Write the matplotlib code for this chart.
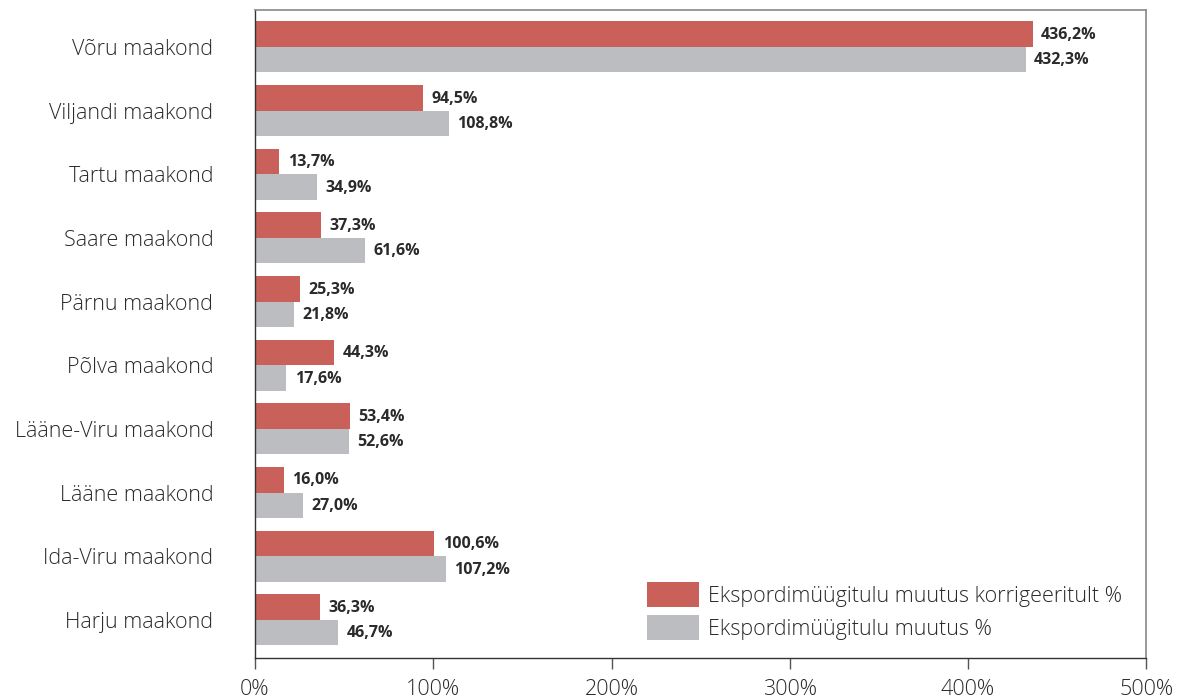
import matplotlib
matplotlib.use("Agg")
import matplotlib.pyplot as plt
import numpy as np
from matplotlib.patches import Patch

categories = ["Võru maakond", "Viljandi maakond", "Tartu maakond", "Saare maakond",
              "Pärnu maakond", "Põlva maakond", "Lääne-Viru maakond", "Lääne maakond",
              "Ida-Viru maakond", "Harju maakond"]
corrected = [436.2, 94.5, 13.7, 37.3, 25.3, 44.3, 53.4, 16.0, 100.6, 36.3]
change = [432.3, 108.8, 34.9, 61.6, 21.8, 17.6, 52.6, 27.0, 107.2, 46.7]
series_names = ["Ekspordimüügitulu muutus korrigeeritult %", "Ekspordimüügitulu muutus %"]
xticks = [0, 100, 200, 300, 400, 500]

plt.rcParams['font.family'] = ['Open Sans', 'DejaVu Sans']

RED = "#C9605A"
GRAY = "#BCBDC1"
TXT = "#2a2a2a"

fig = plt.figure(figsize=(11.86, 7.0), dpi=100)
ax = fig.add_axes([0.215, 0.06, 0.7515, 0.9257])

n = len(categories)
y = np.arange(n)
h = 0.40
ax.barh(y - h/2, corrected, height=h, color=RED, label=series_names[0])
ax.barh(y + h/2, change, height=h, color=GRAY, label=series_names[1])

def fmt(v):
    return f"{v:.1f}%".replace(".", ",")

for yi, v in zip(y, corrected):
    ax.annotate(fmt(v), (v, yi - h/2), xytext=(6, -0.5), textcoords="offset points",
                va="center", ha="left", fontsize=11.5, fontweight="bold", color=TXT)
for yi, v in zip(y, change):
    ax.annotate(fmt(v), (v, yi + h/2), xytext=(6, -0.5), textcoords="offset points",
                va="center", ha="left", fontsize=11.5, fontweight="bold", color=TXT)

ax.set_xlim(0, 500)
ax.set_ylim(9.6, -0.58)
ax.set_yticks(y)
ax.set_yticklabels(categories, fontsize=15.5, color=TXT, fontweight="light")
ax.tick_params(axis="y", length=0, pad=30)
ax.set_xticks(xticks)
ax.set_xticklabels([f"{t}%" for t in xticks], fontsize=15.5, color=TXT, fontweight="light")
ax.tick_params(axis="x", length=8, width=1, color="#555555", direction="out", pad=7)

for s in ["top", "right"]:
    ax.spines[s].set_color("#888888")
    ax.spines[s].set_linewidth(1.2)
for s in ["bottom", "left"]:
    ax.spines[s].set_color("#333333")
    ax.spines[s].set_linewidth(1.0)

handles = [Patch(facecolor=RED, label=series_names[0]),
           Patch(facecolor=GRAY, label=series_names[1])]
leg = ax.legend(handles=handles, loc="lower right", bbox_to_anchor=(0.995, -0.002),
                frameon=False, prop={"size": 15.5, "weight": "light"},
                handlelength=2.4, handleheight=1.4,
                handletextpad=0.45, labelspacing=0.38, labelcolor=TXT)

fig.savefig("out.png", dpi=100)
